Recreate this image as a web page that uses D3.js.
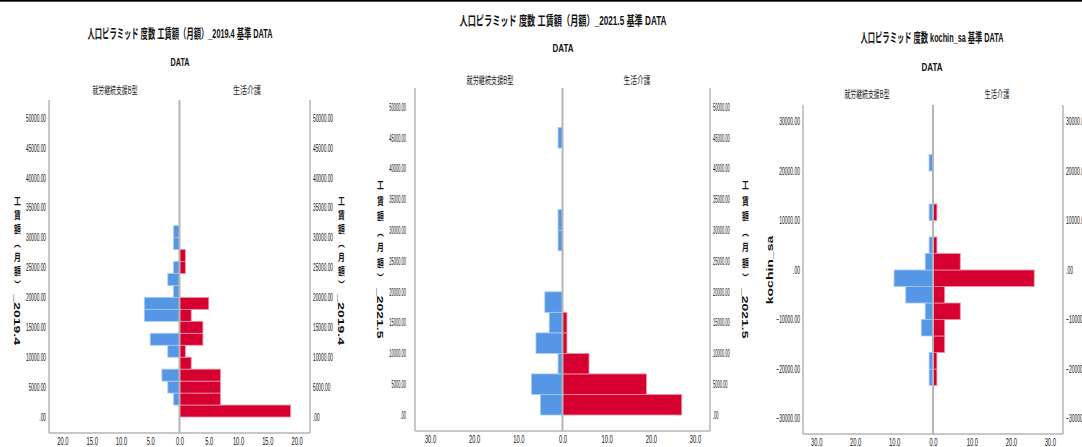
<!DOCTYPE html>
<html>
<head>
<meta charset="utf-8">
<script src="https://cdn.jsdelivr.net/npm/d3@7"></script>
<style>
  body { margin: 0; background: #fff; }
  svg { display: block; }
</style>
</head>
<body>
<div id="chart"></div>
<script>
// sides of every pyramid
const groups = ["就労継続支援B型", "生活介護"];
const titles = [
  "人口ピラミッド 度数 工賃額（月額）_2019.4 基準 DATA",
  "人口ピラミッド 度数 工賃額（月額）_2021.5 基準 DATA",
  "人口ピラミッド 度数 kochin_sa 基準 DATA"
];
// y axis titles: CJK part (upright) and latin part (turned)
const yLabelsCjk = ["工賃額（月額）", "工賃額（月額）", ""];
const yLabelsLatin = ["_2019.4", "_2021.5", "kochin_sa"];

// panel 1: bins of 2000 (lower edges) and counts
const bins2019 = [0, 2000, 4000, 6000, 8000, 10000, 12000, 14000, 16000, 18000, 20000, 22000, 24000, 26000, 28000, 30000];
const typeB2019 = [0, 1, 2, 3, 0, 2, 5, 0, 6, 6, 1, 2, 1, 0, 1, 1];
const life2019 = [19, 7, 7, 7, 2, 1, 4, 4, 2, 5, 0, 0, 1, 1, 0, 0];
const yTicks2019 = [0, 5000, 10000, 15000, 20000, 25000, 30000, 35000, 40000, 45000, 50000];
const xTicks2019 = [-20, -15, -10, -5, 0, 5, 10, 15, 20];

// panel 2: bins of 3333.33
const bins2021 = [0, 3333.33, 6666.67, 10000, 13333.33, 16666.67, 20000, 23333.33, 26666.67, 30000, 33333.33, 36666.67, 40000, 43333.33];
const typeB2021 = [5, 7, 1, 6, 3, 4, 0, 0, 1, 1, 0, 0, 0, 1];
const life2021 = [27, 19, 6, 1, 1, 0, 0, 0, 0, 0, 0, 0, 0, 0];
const yTicks2021 = [0, 5000, 10000, 15000, 20000, 25000, 30000, 35000, 40000, 45000, 50000];
const xTicks2021 = [-30, -20, -10, 0, 10, 20, 30];

// panel 3: kochin_sa, bins of 3333.33
const binsSa = [-23333.33, -20000, -16666.67, -13333.33, -10000, -6666.67, -3333.33, 0, 3333.33, 6666.67, 10000, 13333.33, 16666.67, 20000];
const typeBSa = [1, 1, 0, 3, 2, 7, 10, 2, 1, 0, 1, 0, 0, 1];
const lifeSa = [1, 1, 3, 3, 7, 3, 26, 7, 1, 0, 1, 0, 0, 0];
const yTicksSa = [-30000, -20000, -10000, 0, 10000, 20000, 30000];
const xTicksSa = [-30, -20, -10, 0, 10, 20, 30];

const FONT = "'Liberation Sans', 'Noto Sans CJK JP', sans-serif";
const BLUE = "#5596e6", RED = "#d5002f", AXIS = "#b5b5b5";

const svg = d3.select("#chart").append("svg")
  .attr("width", 1082)
  .attr("height", 447)
  .style("font-family", FONT);

// black rule at the very top
svg.append("rect").attr("width", 1082).attr("height", 1.7).attr("fill", "#000");

const panels = [
  {
    title: titles[0], titleX: 180, titleY: 33, titleW: 185,
    dataX: 180, dataY: 62, dataW: 19,
    subY: 90, subX: [115, 247], subW: [45, 28],
    left: 49, right: 310, top: 100, bottom: 433,
    yDomain: [0, 50000], yRange: [417, 118], xMax: 22.3, binW: 2000,
    bins: bins2019, typeB: typeB2019, life: life2019, yTicks: yTicks2019, xTicks: xTicks2019,
    gapL: 3, gapR: 3, tickSx: 0.48,
    cjk: yLabelsCjk[0], latin: yLabelsLatin[0], labelX: [17, 341], labelY: 196, spacing: 3.5
  },
  {
    title: titles[1], titleX: 563, titleY: 20, titleW: 207,
    dataX: 563, dataY: 48, dataW: 21,
    subY: 80, subX: [490, 637], subW: [47, 27],
    left: 415, right: 710, top: 88, bottom: 431,
    yDomain: [0, 50000], yRange: [415, 107], xMax: 33.4, binW: 3333.33,
    bins: bins2021, typeB: typeB2021, life: life2021, yTicks: yTicks2021, xTicks: xTicks2021,
    gapL: 9, gapR: 3, tickSx: 0.4,
    cjk: yLabelsCjk[1], latin: yLabelsLatin[1], labelX: [380, 745], labelY: 180, spacing: 5
  },
  {
    title: titles[2], titleX: 932, titleY: 37, titleW: 143,
    dataX: 932, dataY: 67, dataW: 21,
    subY: 94, subX: [867, 997], subW: [45, 25],
    left: 803, right: 1063, top: 105, bottom: 434,
    yDomain: [-30000, 30000], yRange: [418.5, 121.5], xMax: 33.4, binW: 3333.33,
    bins: binsSa, typeB: typeBSa, life: lifeSa, yTicks: yTicksSa, xTicks: xTicksSa,
    gapL: 3, gapR: 3, tickSx: 0.5,
    cjk: yLabelsCjk[2], latin: yLabelsLatin[2], labelX: [770], labelY: 270, rotated: true
  }
];

const fmtY = v => v === 0 ? ".00" : d3.format(".2f")(v);
const fmtX = v => d3.format(".1f")(Math.abs(v));

panels.forEach(p => {
  const g = svg.append("g");
  const y = d3.scaleLinear().domain(p.yDomain).range(p.yRange);
  const x = d3.scaleLinear().domain([-p.xMax, p.xMax]).range([p.left, p.right]);

  // titles
  g.append("text")
    .attr("x", p.titleX).attr("y", p.titleY).attr("dy", "0.35em")
    .attr("text-anchor", "middle")
    .attr("font-size", 13).attr("font-weight", "bold").attr("fill", "#111")
    .attr("textLength", p.titleW).attr("lengthAdjust", "spacingAndGlyphs")
    .text(p.title);
  g.append("text")
    .attr("x", p.dataX).attr("y", p.dataY).attr("dy", "0.35em")
    .attr("text-anchor", "middle")
    .attr("font-size", 11.5).attr("font-weight", "bold").attr("fill", "#111")
    .attr("textLength", p.dataW).attr("lengthAdjust", "spacingAndGlyphs")
    .text("DATA");
  groups.forEach((name, i) => {
    g.append("text")
      .attr("x", p.subX[i]).attr("y", p.subY).attr("dy", "0.35em")
      .attr("text-anchor", "middle")
      .attr("font-size", 10).attr("fill", "#222")
      .attr("textLength", p.subW[i]).attr("lengthAdjust", "spacingAndGlyphs")
      .text(name);
  });

  // bars
  const rows = p.bins.map((b, i) => ({ lo: b, b: p.typeB[i], l: p.life[i] }));
  g.selectAll(".barB")
    .data(rows.filter(d => d.b > 0))
    .join("rect")
    .attr("x", d => x(-d.b))
    .attr("width", d => x(0) - x(-d.b))
    .attr("y", d => y(d.lo + p.binW))
    .attr("height", d => y(d.lo) - y(d.lo + p.binW))
    .attr("fill", BLUE)
    .attr("stroke", "#a9c9f2").attr("stroke-width", 0.8);
  g.selectAll(".barL")
    .data(rows.filter(d => d.l > 0))
    .join("rect")
    .attr("x", x(0))
    .attr("width", d => x(d.l) - x(0))
    .attr("y", d => y(d.lo + p.binW))
    .attr("height", d => y(d.lo) - y(d.lo + p.binW))
    .attr("fill", RED)
    .attr("stroke", "#ef93a8").attr("stroke-width", 0.8);

  // frame lines
  const line = (x1, y1, x2, y2, w) => g.append("line")
    .attr("x1", x1).attr("y1", y1).attr("x2", x2).attr("y2", y2)
    .attr("stroke", AXIS).attr("stroke-width", w);
  line(p.left, p.top, p.left, p.bottom, 1.5);
  line(p.right, p.top, p.right, p.bottom, 1.5);
  line(p.left, p.bottom, p.right, p.bottom, 1.5);
  line(x(0), p.top, x(0), p.bottom, 2);

  // y tick labels, both sides
  const styleTicks = (sel, sx) => {
    sel.select(".domain").remove();
    sel.selectAll("text")
      .attr("x", 0)
      .attr("font-family", FONT)
      .attr("font-size", 10)
      .attr("fill", "#111")
      .attr("transform", `scale(${sx},1)`);
  };
  g.append("g")
    .attr("transform", `translate(${p.left - p.gapL},0)`)
    .call(d3.axisLeft(y).tickValues(p.yTicks).tickFormat(fmtY).tickSize(0).tickPadding(0))
    .call(a => styleTicks(a, p.tickSx));
  g.append("g")
    .attr("transform", `translate(${p.right + p.gapR},0)`)
    .call(d3.axisRight(y).tickValues(p.yTicks).tickFormat(fmtY).tickSize(0).tickPadding(0))
    .call(a => styleTicks(a, p.tickSx));

  // x tick labels
  g.append("g")
    .attr("transform", `translate(0,${p.bottom + 5})`)
    .call(d3.axisBottom(x).tickValues(p.xTicks).tickFormat(fmtX).tickSize(0).tickPadding(0))
    .call(a => {
      a.select(".domain").remove();
      a.selectAll("text")
        .attr("y", 0).attr("dy", "0.71em")
        .attr("font-family", FONT).attr("font-size", 10).attr("fill", "#111")
        .attr("transform", "scale(0.58,1)");
    });

  // y axis titles
  p.labelX.forEach(lx => {
    if (p.rotated) {
      g.append("text")
        .attr("transform", `translate(${lx},${p.labelY}) scale(0.7,1) rotate(-90)`)
        .attr("text-anchor", "middle").attr("dy", "0.35em")
        .attr("font-size", 14).attr("font-weight", "bold").attr("fill", "#111")
        .text(p.latin);
    } else {
      const t = g.append("text")
        .attr("transform", `translate(${lx},${p.labelY}) scale(0.65,1)`)
        .style("writing-mode", "vertical-rl")
        .attr("font-weight", "bold").attr("fill", "#111");
      t.append("tspan")
        .attr("font-size", 10.5)
        .style("letter-spacing", p.spacing + "px")
        .text(p.cjk);
      t.append("tspan")
        .attr("font-size", 14)
        .text(p.latin);
    }
  });
});
</script>
</body>
</html>
